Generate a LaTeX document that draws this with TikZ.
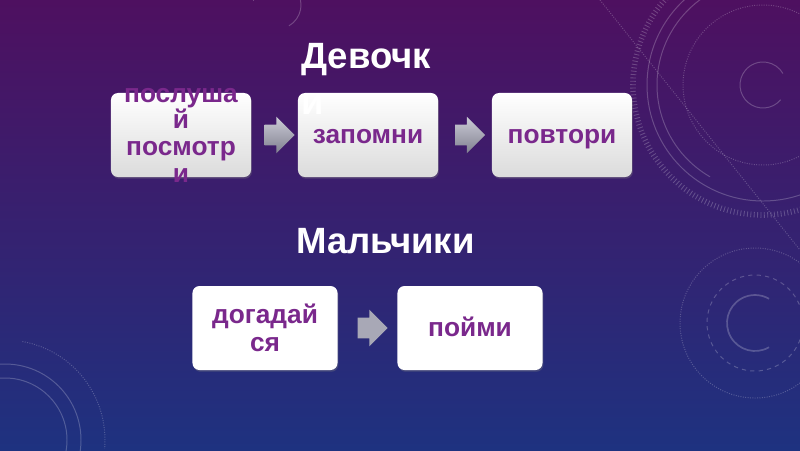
\documentclass[tikz,border=0pt]{standalone}
\usepackage{fontspec}
\setmainfont{Liberation Sans}
\usetikzlibrary{shapes.arrows,shadows,positioning,calc}
\definecolor{slidetop}{RGB}{78,16,96}
\definecolor{slidemid}{RGB}{58,32,112}
\definecolor{slidebottom}{RGB}{30,50,128}
\definecolor{stagetext}{RGB}{122,40,140}
\definecolor{arrowlight}{RGB}{204,204,214}
\definecolor{arrowdark}{RGB}{128,128,144}
\definecolor{arrowflat}{RGB}{168,168,182}
\tikzset{
  ring/.style={draw=white,draw opacity=0.22,line width=0.7pt},
  stepbox/.style={rectangle,rounded corners=5pt,minimum width=3.5cm,minimum height=2.1cm,
    inner sep=0pt,align=center,text=stagetext,font=\bfseries\fontsize{18.7}{19.8}\selectfont,
    drop shadow={opacity=0.35,shadow xshift=0.6pt,shadow yshift=-1.2pt}},
  oneline/.style={text height=14pt,text depth=2.2pt},
  glossbox/.style={top color=white,bottom color=black!14},
  steptext/.style={inner sep=0pt,align=center,text=stagetext,font=\bfseries\fontsize{18.7}{19}\selectfont},
  titletext/.style={inner sep=0pt,align=left,text=white,font=\bfseries\fontsize{26}{33}\selectfont},
  pointer/.style={single arrow,draw=none,minimum height=0.75cm,single arrow head extend=0.2cm,
    inner xsep=0pt,inner ysep=0.25cm},
  glossarrow/.style={top color=arrowlight,bottom color=arrowdark}
}
\newcommand{\ringset}[2]{\draw[ring] (#1) circle (#2);}

\begin{document}
\begin{tikzpicture}[x=0.025cm,y=-0.025cm]
	\shade[top color=slidetop,middle color=slidemid,bottom color=slidebottom] (0,0) rectangle (800,450);
	\useasboundingbox (0,0) rectangle (800,450);
	\clip (0,0) rectangle (800,450);
	% faint rings of the slide theme
	\draw[ring] (763,85) ++(40:23) arc (40:330:23);
	\draw[ring,densely dotted] (763,85) circle (80);
	\draw[ring] (763,85) ++(120:106) arc (120:300:106);
	\ringset{763,85}{116}
	\draw[ring,dash pattern=on 0.6pt off 1.8pt,line width=4pt] (763,85) circle (130);
	\draw[ring,densely dotted] (600,0) -- (800,250);
	\draw[ring,line width=1.2pt] (755,323) ++(60:28) arc (60:300:28);
	\draw[ring,dashed] (755,323) circle (48);
	\draw[ring,densely dotted] (755,323) circle (75);
	\ringset{5,440}{62}\ringset{5,440}{76}
	\draw[ring,densely dotted] (5,440) ++(-80:100) arc (-80:5:100);
	\draw[ring] (277,5) ++(-170:24) arc (-170:60:24);
	% girls
	\node[stepbox,glossbox] (listen) at (181,135) {};
	\node[steptext] (listentext) at (listen) {послуша\\й\\посмотр\\и};
	\node[stepbox,glossbox,oneline] (remember) at (368,135) {запомни};
	\node[stepbox,glossbox,oneline] (repeat) at (562,135) {повтори};
	\node[pointer,glossarrow] (p1) at ($(listen.east)!0.5!(remember.west)$) {};
	\node[pointer,glossarrow] (p2) at ($(remember.east)!0.5!(repeat.west)$) {};
	\node[titletext,anchor=north west] (girls) at (301,43) {Девочк\\и};
	% boys
	\node[titletext,anchor=base west] (boys) at (296,253) {Мальчики};
	\node[stepbox,fill=white,minimum width=3.625cm] (guess) at (265,328) {догадай\\ся};
	\node[stepbox,fill=white,minimum width=3.625cm,oneline] (grasp) at (470,328) {пойми};
	\node[pointer,fill=arrowflat] (p3) at ($(guess.east)!0.5!(grasp.west)$) {};
\end{tikzpicture}
\end{document}
